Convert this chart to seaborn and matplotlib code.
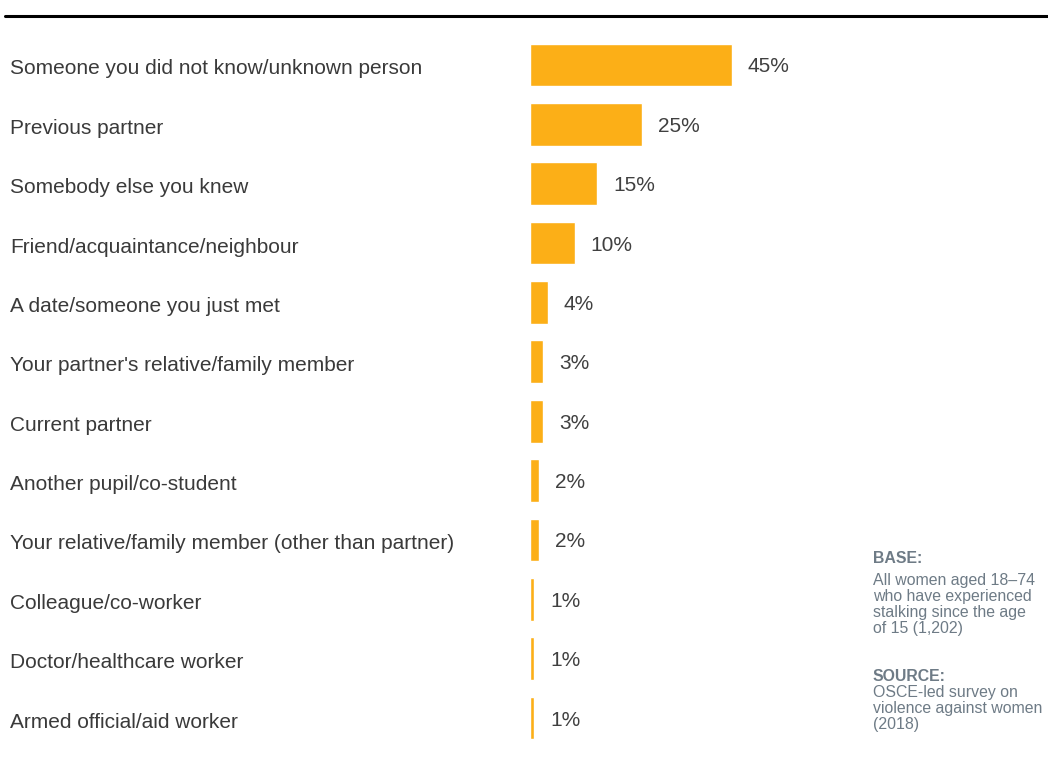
import matplotlib
matplotlib.use("Agg")
import matplotlib.pyplot as plt
import matplotlib.transforms as mtransforms
import seaborn as sns
import pandas as pd
from matplotlib.lines import Line2D

# Who was the perpetrator of stalking (share of women, %)
categories = [
    "Someone you did not know/unknown person",
    "Previous partner",
    "Somebody else you knew",
    "Friend/acquaintance/neighbour",
    "A date/someone you just met",
    "Your partner's relative/family member",
    "Current partner",
    "Another pupil/co-student",
    "Your relative/family member (other than partner)",
    "Colleague/co-worker",
    "Doctor/healthcare worker",
    "Armed official/aid worker",
]
values = [45, 25, 15, 10, 4, 3, 3, 2, 2, 1, 1, 1]

base_lines = ["All women aged 18\u201374", "who have experienced",
              "stalking since the age", "of 15 (1,202)"]
source_lines = ["OSCE-led survey on", "violence against women", "(2018)"]

df = pd.DataFrame({"category": categories, "value": values})

sns.set_theme(style="white")
plt.rcParams["font.family"] = ["Liberation Sans", "DejaVu Sans"]

W, H, DPI = 1048, 759, 100
fig = plt.figure(figsize=(W / DPI, H / DPI), dpi=DPI)

ax_left, ax_right = 530, 979
ax_top, ax_bottom = 35.3, 747.7
ax = fig.add_axes([ax_left / W, 1 - ax_bottom / H,
                   (ax_right - ax_left) / W, (ax_bottom - ax_top) / H])

bar_color = "#FCAF17"
sns.barplot(data=df, x="value", y="category", orient="h", color=bar_color,
            saturation=1, width=0.72, ax=ax)

ax.set_xlim(0, 100)
ax.set_ylim(len(categories) - 0.5, -0.5)
for s in ax.spines.values():
    s.set_visible(False)
ax.set_xticks([])
ax.set_xlabel("")
ax.set_ylabel("")

# Text sits slightly below the bar centre line
nudge = mtransforms.ScaledTranslation(0, -2 / DPI, fig.dpi_scale_trans)

# Category labels left-aligned at the figure's left margin
pad_pts = (ax_left - 10) * 72 / DPI
ax.tick_params(axis="y", length=0, pad=pad_pts)
for lab in ax.get_yticklabels():
    lab.set_horizontalalignment("left")
    lab.set_fontsize(15)
    lab.set_color("#3a3a3a")
    lab.set_transform(lab.get_transform() + nudge)

for i, v in enumerate(values):
    ax.text(v + 3.5, i, f"{v}%", va="center", ha="left",
            fontsize=15, color="#404040", transform=ax.transData + nudge)

# Rule across the top
fig.add_artist(Line2D([5 / W, 1.0], [1 - 16 / H, 1 - 16 / H],
                      transform=fig.transFigure, color="black", linewidth=2.2))

# Notes block
note_x = 873 / W
grey = "#6E7B86"
note_size = 11.4
line_step = 16


def note_block(title, lines, title_baseline, first_baseline):
    fig.text(note_x, 1 - title_baseline / H, title, fontsize=note_size,
             fontweight="bold", color=grey, va="baseline", ha="left")
    for k, line in enumerate(lines):
        fig.text(note_x, 1 - (first_baseline + k * line_step) / H, line,
                 fontsize=note_size, color=grey, va="baseline", ha="left")


note_block("BASE:", base_lines, 563, 585)
note_block("SOURCE:", source_lines, 681, 697)

fig.savefig("out.png", dpi=DPI, facecolor="white")
